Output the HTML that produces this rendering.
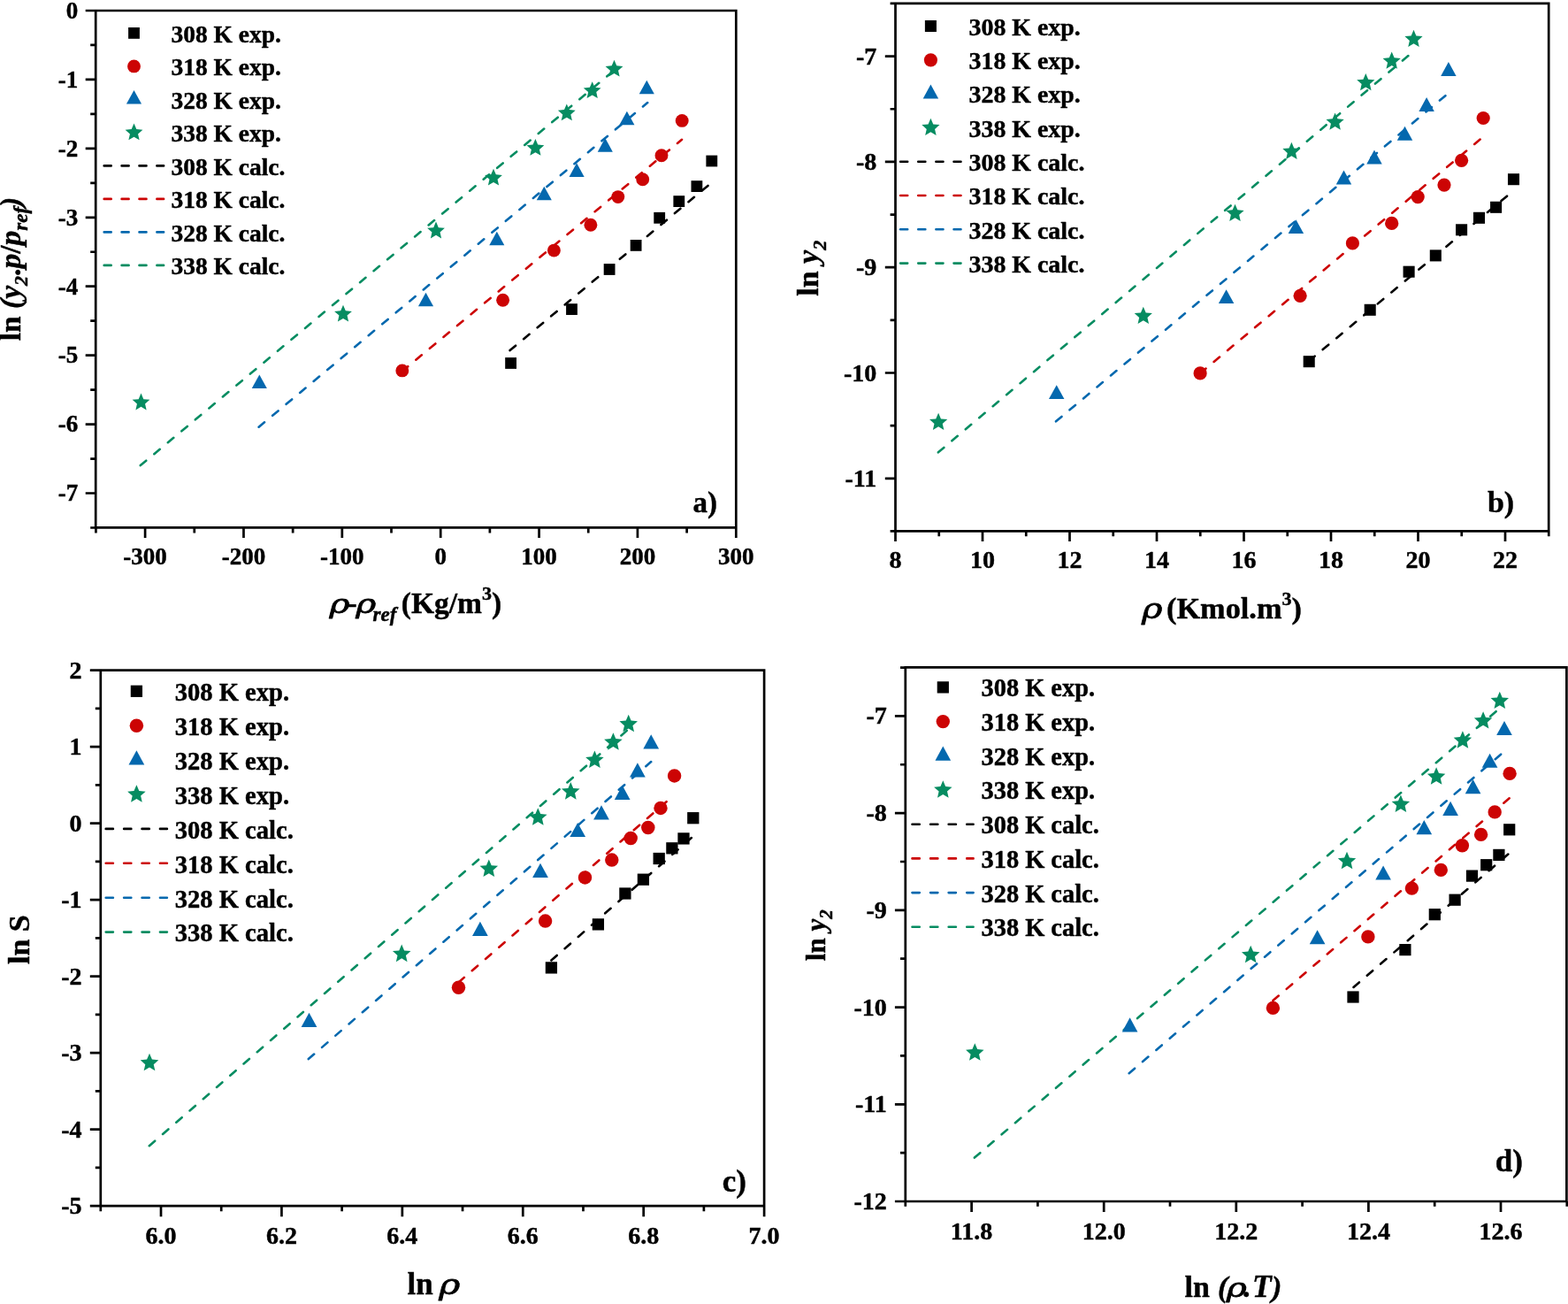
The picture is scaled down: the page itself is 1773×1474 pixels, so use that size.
<!DOCTYPE html>
<html><head><meta charset="utf-8"><title>Solubility correlation plots</title>
<style>
html,body{margin:0;padding:0;background:#fff;}
svg{display:block;}
text{font-family:"Liberation Serif",serif;font-weight:bold;fill:#000;stroke:#000;stroke-width:0.45px;stroke-linejoin:round;}
.rho{font-family:"DejaVu Serif","Liberation Serif",serif;font-style:italic;font-weight:normal;stroke:#000;stroke-width:0.8px;}
</style></head><body>
<svg width="1773" height="1474" viewBox="0 0 1773 1474">
<rect width="1773" height="1474" fill="#fff"/>
<g id="panel-a">
<path d="M108.2 12H832.3V596.4H108.2ZM108.2 12H96.7M108.2 89.93H96.7M108.2 167.86H96.7M108.2 245.79H96.7M108.2 323.72H96.7M108.2 401.65H96.7M108.2 479.58H96.7M108.2 557.51H96.7M108.2 50.97H102.2M108.2 128.9H102.2M108.2 206.83H102.2M108.2 284.75H102.2M108.2 362.69H102.2M108.2 440.62H102.2M108.2 518.55H102.2M108.2 596.48H102.2M164.1 596.4V607.9M275.47 596.4V607.9M386.83 596.4V607.9M498.2 596.4V607.9M609.57 596.4V607.9M720.93 596.4V607.9M832.3 596.4V607.9M108.42 596.4V602.4M219.78 596.4V602.4M331.15 596.4V602.4M442.52 596.4V602.4M553.88 596.4V602.4M665.25 596.4V602.4M776.62 596.4V602.4" fill="none" stroke="#000" stroke-width="2.7" stroke-linecap="butt" stroke-linejoin="miter"/>
<text x="88.3" y="20.8" font-size="27" text-anchor="end">0</text>
<text x="88.3" y="98.73" font-size="27" text-anchor="end">-1</text>
<text x="88.3" y="176.66" font-size="27" text-anchor="end">-2</text>
<text x="88.3" y="254.59" font-size="27" text-anchor="end">-3</text>
<text x="88.3" y="332.52" font-size="27" text-anchor="end">-4</text>
<text x="88.3" y="410.45" font-size="27" text-anchor="end">-5</text>
<text x="88.3" y="488.38" font-size="27" text-anchor="end">-6</text>
<text x="88.3" y="566.31" font-size="27" text-anchor="end">-7</text>
<text x="164.1" y="637.6" font-size="27" text-anchor="middle">-300</text>
<text x="275.47" y="637.6" font-size="27" text-anchor="middle">-200</text>
<text x="386.83" y="637.6" font-size="27" text-anchor="middle">-100</text>
<text x="498.2" y="637.6" font-size="27" text-anchor="middle">0</text>
<text x="609.57" y="637.6" font-size="27" text-anchor="middle">100</text>
<text x="720.93" y="637.6" font-size="27" text-anchor="middle">200</text>
<text x="832.3" y="637.6" font-size="27" text-anchor="middle">300</text>
<line x1="576.6" y1="396.1" x2="805.5" y2="205.7" stroke="#000000" stroke-width="2.6" stroke-dasharray="8.4 11.8" stroke-linecap="round"/>
<line x1="454.8" y1="419.6" x2="771" y2="157.8" stroke="#CC0404" stroke-width="2.6" stroke-dasharray="8.4 11.8" stroke-linecap="round"/>
<line x1="292.6" y1="482.7" x2="732.2" y2="116.1" stroke="#0468AE" stroke-width="2.6" stroke-dasharray="8.4 11.8" stroke-linecap="round"/>
<line x1="158.8" y1="526.1" x2="694.5" y2="79.5" stroke="#068C61" stroke-width="2.6" stroke-dasharray="8.4 11.8" stroke-linecap="round"/>
<rect x="798.4" y="175.6" width="12.8" height="12.8" fill="#000000"/>
<rect x="781.5" y="204.2" width="12.8" height="12.8" fill="#000000"/>
<rect x="761.4" y="221.2" width="12.8" height="12.8" fill="#000000"/>
<rect x="739.3" y="239.9" width="12.8" height="12.8" fill="#000000"/>
<rect x="712.7" y="271" width="12.8" height="12.8" fill="#000000"/>
<rect x="682.7" y="298.1" width="12.8" height="12.8" fill="#000000"/>
<rect x="640.1" y="343.2" width="12.8" height="12.8" fill="#000000"/>
<rect x="571.2" y="404.1" width="12.8" height="12.8" fill="#000000"/>
<circle cx="771.2" cy="136.4" r="7.45" fill="#CC0404"/>
<circle cx="748" cy="175.7" r="7.45" fill="#CC0404"/>
<circle cx="726.7" cy="202.7" r="7.45" fill="#CC0404"/>
<circle cx="698.8" cy="222.6" r="7.45" fill="#CC0404"/>
<circle cx="667.9" cy="254.2" r="7.45" fill="#CC0404"/>
<circle cx="626.4" cy="283.1" r="7.45" fill="#CC0404"/>
<circle cx="568.6" cy="339.2" r="7.45" fill="#CC0404"/>
<circle cx="454.8" cy="418.9" r="7.45" fill="#CC0404"/>
<polygon points="731.3,90.7 722.75,106.3 739.85,106.3" fill="#0468AE"/>
<polygon points="708.9,125.7 700.35,141.3 717.45,141.3" fill="#0468AE"/>
<polygon points="684.3,156.1 675.75,171.7 692.85,171.7" fill="#0468AE"/>
<polygon points="652.1,184.3 643.55,199.9 660.65,199.9" fill="#0468AE"/>
<polygon points="615.3,210.7 606.75,226.3 623.85,226.3" fill="#0468AE"/>
<polygon points="561.8,261.7 553.25,277.3 570.35,277.3" fill="#0468AE"/>
<polygon points="481.5,330.7 472.95,346.3 490.05,346.3" fill="#0468AE"/>
<polygon points="293.3,423.5 284.75,439.1 301.85,439.1" fill="#0468AE"/>
<polygon points="694.5,67.8 697.31,74.33 704.39,74.99 699.05,79.68 700.61,86.61 694.5,82.98 688.39,86.61 689.95,79.68 684.61,74.99 691.69,74.33" fill="#068C61"/>
<polygon points="669.7,92.2 672.51,98.73 679.59,99.39 674.25,104.08 675.81,111.01 669.7,107.38 663.59,111.01 665.15,104.08 659.81,99.39 666.89,98.73" fill="#068C61"/>
<polygon points="640.8,117.5 643.61,124.03 650.69,124.69 645.35,129.38 646.91,136.31 640.8,132.68 634.69,136.31 636.25,129.38 630.91,124.69 637.99,124.03" fill="#068C61"/>
<polygon points="605.4,157 608.21,163.53 615.29,164.19 609.95,168.88 611.51,175.81 605.4,172.18 599.29,175.81 600.85,168.88 595.51,164.19 602.59,163.53" fill="#068C61"/>
<polygon points="558,190.8 560.81,197.33 567.89,197.99 562.55,202.68 564.11,209.61 558,205.98 551.89,209.61 553.45,202.68 548.11,197.99 555.19,197.33" fill="#068C61"/>
<polygon points="493,250.6 495.81,257.13 502.89,257.79 497.55,262.48 499.11,269.41 493,265.78 486.89,269.41 488.45,262.48 483.11,257.79 490.19,257.13" fill="#068C61"/>
<polygon points="388,344.7 390.81,351.23 397.89,351.89 392.55,356.58 394.11,363.51 388,359.88 381.89,363.51 383.45,356.58 378.11,351.89 385.19,351.23" fill="#068C61"/>
<polygon points="159.5,444.6 162.31,451.13 169.39,451.79 164.05,456.48 165.61,463.41 159.5,459.78 153.39,463.41 154.95,456.48 149.61,451.79 156.69,451.13" fill="#068C61"/>
<rect x="145.1" y="31" width="12.8" height="12.8" fill="#000000"/>
<circle cx="151.5" cy="74.9" r="7.45" fill="#CC0404"/>
<polygon points="151.5,102 142.95,117.6 160.05,117.6" fill="#0468AE"/>
<polygon points="151.5,139.5 154.31,146.03 161.39,146.69 156.05,151.38 157.61,158.31 151.5,154.68 145.39,158.31 146.95,151.38 141.61,146.69 148.69,146.03" fill="#068C61"/>
<line x1="117.7" y1="187.4" x2="185.1" y2="187.4" stroke="#000000" stroke-width="2.6" stroke-dasharray="8 11.9" stroke-linecap="round"/>
<line x1="117.7" y1="224.9" x2="185.1" y2="224.9" stroke="#CC0404" stroke-width="2.6" stroke-dasharray="8 11.9" stroke-linecap="round"/>
<line x1="117.7" y1="262.4" x2="185.1" y2="262.4" stroke="#0468AE" stroke-width="2.6" stroke-dasharray="8 11.9" stroke-linecap="round"/>
<line x1="117.7" y1="299.9" x2="185.1" y2="299.9" stroke="#068C61" stroke-width="2.6" stroke-dasharray="8 11.9" stroke-linecap="round"/>
<text x="193.6" y="47.9" font-size="27.45">308 K exp.</text>
<text x="193.6" y="85.4" font-size="27.45">318 K exp.</text>
<text x="193.6" y="122.9" font-size="27.45">328 K exp.</text>
<text x="193.6" y="160.4" font-size="27.45">338 K exp.</text>
<text x="193.6" y="197.9" font-size="27.45">308 K calc.</text>
<text x="193.6" y="235.4" font-size="27.45">318 K calc.</text>
<text x="193.6" y="272.9" font-size="27.45">328 K calc.</text>
<text x="193.6" y="310.4" font-size="27.45">338 K calc.</text>
<text x="783.6" y="578.9" font-size="33">a)</text>
<text class="rho" transform="translate(372.6,692.8)  scale(1.28,1)" font-size="30.5">ρ</text><text class="rho" transform="translate(402.2,692.8)  scale(1.28,1)" font-size="30.5">ρ</text>
<text y="692.8" font-size="33.5"><tspan x="392.5">-</tspan><tspan x="421.6" y="701.7" font-style="italic" font-size="23">ref</tspan><tspan x="453.8" y="692.8">(Kg/m</tspan><tspan font-size="22" dy="-14.5">3</tspan><tspan dy="14.5">)</tspan></text>
<text transform="translate(23.4,385.3) rotate(-90)" font-size="33.5">ln <tspan font-style="italic">(y</tspan><tspan font-style="italic" font-size="22" dy="8">2</tspan><tspan dy="-8">.</tspan><tspan font-style="italic">p</tspan>/<tspan font-style="italic">p</tspan><tspan font-style="italic" font-size="23" dy="8">ref</tspan><tspan font-style="italic" dy="-8">)</tspan></text>
</g>
<g id="panel-b">
<path d="M1012.5 3.8H1751.2V600.4H1012.5ZM1012.5 63.6H1000.8M1012.5 182.9H1000.8M1012.5 302.2H1000.8M1012.5 421.5H1000.8M1012.5 540.8H1000.8M1012.5 3.95H1006.6M1012.5 123.25H1006.6M1012.5 242.55H1006.6M1012.5 361.85H1006.6M1012.5 481.15H1006.6M1012.5 600.45H1006.6M1012.5 600.4V612.1M1111 600.4V612.1M1209.5 600.4V612.1M1308 600.4V612.1M1406.5 600.4V612.1M1505 600.4V612.1M1603.5 600.4V612.1M1702 600.4V612.1M1061.75 600.4V606.3M1160.25 600.4V606.3M1258.75 600.4V606.3M1357.25 600.4V606.3M1455.75 600.4V606.3M1554.25 600.4V606.3M1652.75 600.4V606.3M1751.25 600.4V606.3" fill="none" stroke="#000" stroke-width="2.7" stroke-linecap="butt" stroke-linejoin="miter"/>
<text x="991.3" y="72.6" font-size="28" text-anchor="end">-7</text>
<text x="991.3" y="191.9" font-size="28" text-anchor="end">-8</text>
<text x="991.3" y="311.2" font-size="28" text-anchor="end">-9</text>
<text x="991.3" y="430.5" font-size="28" text-anchor="end">-10</text>
<text x="991.3" y="549.8" font-size="28" text-anchor="end">-11</text>
<text x="1012.5" y="642.3" font-size="28" text-anchor="middle">8</text>
<text x="1111" y="642.3" font-size="28" text-anchor="middle">10</text>
<text x="1209.5" y="642.3" font-size="28" text-anchor="middle">12</text>
<text x="1308" y="642.3" font-size="28" text-anchor="middle">14</text>
<text x="1406.5" y="642.3" font-size="28" text-anchor="middle">16</text>
<text x="1505" y="642.3" font-size="28" text-anchor="middle">18</text>
<text x="1603.5" y="642.3" font-size="28" text-anchor="middle">20</text>
<text x="1702" y="642.3" font-size="28" text-anchor="middle">22</text>
<line x1="1480.2" y1="408" x2="1712" y2="215" stroke="#000000" stroke-width="2.6" stroke-dasharray="8.4 11.8" stroke-linecap="round"/>
<line x1="1357.1" y1="421.9" x2="1677.7" y2="154.2" stroke="#CC0404" stroke-width="2.6" stroke-dasharray="8.4 11.8" stroke-linecap="round"/>
<line x1="1194" y1="476.3" x2="1638.6" y2="104.6" stroke="#0468AE" stroke-width="2.6" stroke-dasharray="8.4 11.8" stroke-linecap="round"/>
<line x1="1060.9" y1="511.3" x2="1599" y2="57.5" stroke="#068C61" stroke-width="2.6" stroke-dasharray="8.4 11.8" stroke-linecap="round"/>
<rect x="1704.97" y="196.17" width="13.06" height="13.06" fill="#000000"/>
<rect x="1685.07" y="227.77" width="13.06" height="13.06" fill="#000000"/>
<rect x="1665.97" y="239.77" width="13.06" height="13.06" fill="#000000"/>
<rect x="1646.07" y="253.27" width="13.06" height="13.06" fill="#000000"/>
<rect x="1616.77" y="282.37" width="13.06" height="13.06" fill="#000000"/>
<rect x="1586.57" y="300.67" width="13.06" height="13.06" fill="#000000"/>
<rect x="1542.67" y="343.77" width="13.06" height="13.06" fill="#000000"/>
<rect x="1473.67" y="402.17" width="13.06" height="13.06" fill="#000000"/>
<circle cx="1677.2" cy="133.5" r="7.6" fill="#CC0404"/>
<circle cx="1652.6" cy="181.3" r="7.6" fill="#CC0404"/>
<circle cx="1633" cy="209.1" r="7.6" fill="#CC0404"/>
<circle cx="1603.2" cy="222.6" r="7.6" fill="#CC0404"/>
<circle cx="1573.7" cy="252.4" r="7.6" fill="#CC0404"/>
<circle cx="1529.4" cy="274.9" r="7.6" fill="#CC0404"/>
<circle cx="1470.1" cy="334.3" r="7.6" fill="#CC0404"/>
<circle cx="1357.1" cy="421.9" r="7.6" fill="#CC0404"/>
<polygon points="1637.9,69.99 1629.18,85.9 1646.62,85.9" fill="#0468AE"/>
<polygon points="1613.1,110.09 1604.38,126 1621.82,126" fill="#0468AE"/>
<polygon points="1588.5,142.79 1579.78,158.7 1597.22,158.7" fill="#0468AE"/>
<polygon points="1554,169.49 1545.28,185.4 1562.72,185.4" fill="#0468AE"/>
<polygon points="1519.5,192.49 1510.78,208.4 1528.22,208.4" fill="#0468AE"/>
<polygon points="1465.4,248.19 1456.68,264.1 1474.12,264.1" fill="#0468AE"/>
<polygon points="1386.6,327.19 1377.88,343.1 1395.32,343.1" fill="#0468AE"/>
<polygon points="1194.7,435.19 1185.98,451.1 1203.42,451.1" fill="#0468AE"/>
<polygon points="1598.5,33.79 1601.37,40.45 1608.59,41.12 1603.14,45.91 1604.74,52.98 1598.5,49.28 1592.26,52.98 1593.86,45.91 1588.41,41.12 1595.63,40.45" fill="#068C61"/>
<polygon points="1573.7,58.59 1576.57,65.25 1583.79,65.92 1578.34,70.71 1579.94,77.78 1573.7,74.08 1567.46,77.78 1569.06,70.71 1563.61,65.92 1570.83,65.25" fill="#068C61"/>
<polygon points="1544.3,82.99 1547.17,89.65 1554.39,90.32 1548.94,95.11 1550.54,102.18 1544.3,98.48 1538.06,102.18 1539.66,95.11 1534.21,90.32 1541.43,89.65" fill="#068C61"/>
<polygon points="1509.6,127.59 1512.47,134.25 1519.69,134.92 1514.24,139.71 1515.84,146.78 1509.6,143.08 1503.36,146.78 1504.96,139.71 1499.51,134.92 1506.73,134.25" fill="#068C61"/>
<polygon points="1460.4,160.79 1463.27,167.45 1470.49,168.12 1465.04,172.91 1466.64,179.98 1460.4,176.28 1454.16,179.98 1455.76,172.91 1450.31,168.12 1457.53,167.45" fill="#068C61"/>
<polygon points="1396.5,230.69 1399.37,237.35 1406.59,238.02 1401.14,242.81 1402.74,249.88 1396.5,246.18 1390.26,249.88 1391.86,242.81 1386.41,238.02 1393.63,237.35" fill="#068C61"/>
<polygon points="1292.8,346.79 1295.67,353.45 1302.89,354.12 1297.44,358.91 1299.04,365.98 1292.8,362.28 1286.56,365.98 1288.16,358.91 1282.71,354.12 1289.93,353.45" fill="#068C61"/>
<polygon points="1061.1,466.79 1063.97,473.45 1071.19,474.12 1065.74,478.91 1067.34,485.98 1061.1,482.28 1054.86,485.98 1056.46,478.91 1051.01,474.12 1058.23,473.45" fill="#068C61"/>
<rect x="1045.87" y="22.97" width="13.06" height="13.06" fill="#000000"/>
<circle cx="1052.4" cy="67.8" r="7.6" fill="#CC0404"/>
<polygon points="1052.4,95.49 1043.68,111.4 1061.12,111.4" fill="#0468AE"/>
<polygon points="1052.4,133.79 1055.27,140.45 1062.49,141.12 1057.04,145.91 1058.64,152.98 1052.4,149.28 1046.16,152.98 1047.76,145.91 1042.31,141.12 1049.53,140.45" fill="#068C61"/>
<line x1="1018.1" y1="182.7" x2="1086.5" y2="182.7" stroke="#000000" stroke-width="2.6" stroke-dasharray="8.1 12.04" stroke-linecap="round"/>
<line x1="1018.1" y1="221" x2="1086.5" y2="221" stroke="#CC0404" stroke-width="2.6" stroke-dasharray="8.1 12.04" stroke-linecap="round"/>
<line x1="1018.1" y1="259.3" x2="1086.5" y2="259.3" stroke="#0468AE" stroke-width="2.6" stroke-dasharray="8.1 12.04" stroke-linecap="round"/>
<line x1="1018.1" y1="297.6" x2="1086.5" y2="297.6" stroke="#068C61" stroke-width="2.6" stroke-dasharray="8.1 12.04" stroke-linecap="round"/>
<text x="1095.5" y="39.8" font-size="27.9">308 K exp.</text>
<text x="1095.5" y="78.1" font-size="27.9">318 K exp.</text>
<text x="1095.5" y="116.4" font-size="27.9">328 K exp.</text>
<text x="1095.5" y="154.7" font-size="27.9">338 K exp.</text>
<text x="1095.5" y="193" font-size="27.9">308 K calc.</text>
<text x="1095.5" y="231.3" font-size="27.9">318 K calc.</text>
<text x="1095.5" y="269.6" font-size="27.9">328 K calc.</text>
<text x="1095.5" y="307.9" font-size="27.9">338 K calc.</text>
<text x="1681.9" y="579.2" font-size="34">b)</text>
<text class="rho" transform="translate(1290.9,699.1)  scale(1.28,1)" font-size="31.11">ρ</text>
<text x="1319" y="698.9" font-size="34.3">(Kmol.m<tspan font-size="22" dy="-14.8">3</tspan><tspan dy="14.8">)</tspan></text>
<text transform="translate(925.4,334.8) rotate(-90)" font-size="34">ln <tspan font-style="italic">y</tspan><tspan font-style="italic" font-size="22" dy="9">2</tspan></text>
</g>
<g id="panel-c">
<path d="M113.8 757.6H864.1V1363.2H113.8ZM113.8 757.6H101.8M113.8 844.1H101.8M113.8 930.6H101.8M113.8 1017.1H101.8M113.8 1103.6H101.8M113.8 1190.1H101.8M113.8 1276.6H101.8M113.8 1363.1H101.8M113.8 800.85H107.8M113.8 887.35H107.8M113.8 973.85H107.8M113.8 1060.35H107.8M113.8 1146.85H107.8M113.8 1233.35H107.8M113.8 1319.85H107.8M182.01 1363.2V1375.2M318.43 1363.2V1375.2M454.85 1363.2V1375.2M591.27 1363.2V1375.2M727.69 1363.2V1375.2M864.11 1363.2V1375.2M113.8 1363.2V1369.2M250.22 1363.2V1369.2M386.64 1363.2V1369.2M523.06 1363.2V1369.2M659.48 1363.2V1369.2M795.9 1363.2V1369.2" fill="none" stroke="#000" stroke-width="2.7" stroke-linecap="butt" stroke-linejoin="miter"/>
<text x="92.5" y="766.6" font-size="28" text-anchor="end">2</text>
<text x="92.5" y="853.1" font-size="28" text-anchor="end">1</text>
<text x="92.5" y="939.6" font-size="28" text-anchor="end">0</text>
<text x="92.5" y="1026.1" font-size="28" text-anchor="end">-1</text>
<text x="92.5" y="1112.6" font-size="28" text-anchor="end">-2</text>
<text x="92.5" y="1199.1" font-size="28" text-anchor="end">-3</text>
<text x="92.5" y="1285.6" font-size="28" text-anchor="end">-4</text>
<text x="92.5" y="1372.1" font-size="28" text-anchor="end">-5</text>
<text x="182.01" y="1406" font-size="28" text-anchor="middle">6.0</text>
<text x="318.43" y="1406" font-size="28" text-anchor="middle">6.2</text>
<text x="454.85" y="1406" font-size="28" text-anchor="middle">6.4</text>
<text x="591.27" y="1406" font-size="28" text-anchor="middle">6.6</text>
<text x="727.69" y="1406" font-size="28" text-anchor="middle">6.8</text>
<text x="864.11" y="1406" font-size="28" text-anchor="middle">7.0</text>
<line x1="623.4" y1="1085.5" x2="784" y2="945.2" stroke="#000000" stroke-width="2.6" stroke-dasharray="8.4 11.8" stroke-linecap="round"/>
<line x1="518.5" y1="1110.4" x2="762.2" y2="898.7" stroke="#CC0404" stroke-width="2.6" stroke-dasharray="8.4 11.8" stroke-linecap="round"/>
<line x1="348.8" y1="1197.1" x2="736.2" y2="861.1" stroke="#0468AE" stroke-width="2.6" stroke-dasharray="8.4 11.8" stroke-linecap="round"/>
<line x1="168.8" y1="1295.2" x2="710.7" y2="824.2" stroke="#068C61" stroke-width="2.6" stroke-dasharray="8.4 11.8" stroke-linecap="round"/>
<rect x="777.16" y="918.06" width="13.27" height="13.27" fill="#000000"/>
<rect x="766.36" y="941.26" width="13.27" height="13.27" fill="#000000"/>
<rect x="753.26" y="952.16" width="13.27" height="13.27" fill="#000000"/>
<rect x="738.56" y="963.86" width="13.27" height="13.27" fill="#000000"/>
<rect x="720.76" y="987.56" width="13.27" height="13.27" fill="#000000"/>
<rect x="700.26" y="1003.36" width="13.27" height="13.27" fill="#000000"/>
<rect x="669.76" y="1038.26" width="13.27" height="13.27" fill="#000000"/>
<rect x="616.76" y="1087.26" width="13.27" height="13.27" fill="#000000"/>
<circle cx="762.6" cy="876.9" r="7.73" fill="#CC0404"/>
<circle cx="747" cy="913.4" r="7.73" fill="#CC0404"/>
<circle cx="732.8" cy="935.5" r="7.73" fill="#CC0404"/>
<circle cx="713.2" cy="947.5" r="7.73" fill="#CC0404"/>
<circle cx="691.8" cy="972.1" r="7.73" fill="#CC0404"/>
<circle cx="661.5" cy="991.9" r="7.73" fill="#CC0404"/>
<circle cx="616.6" cy="1041.1" r="7.73" fill="#CC0404"/>
<circle cx="518.5" cy="1116.3" r="7.73" fill="#CC0404"/>
<polygon points="736.2,830.22 727.33,846.39 745.07,846.39" fill="#0468AE"/>
<polygon points="720.9,862.22 712.03,878.39 729.77,878.39" fill="#0468AE"/>
<polygon points="703.7,887.72 694.83,903.89 712.57,903.89" fill="#0468AE"/>
<polygon points="680,910.32 671.13,926.49 688.87,926.49" fill="#0468AE"/>
<polygon points="653.2,929.92 644.33,946.09 662.07,946.09" fill="#0468AE"/>
<polygon points="611,975.72 602.13,991.89 619.87,991.89" fill="#0468AE"/>
<polygon points="542.9,1041.82 534.03,1057.99 551.77,1057.99" fill="#0468AE"/>
<polygon points="349.5,1144.82 340.63,1160.99 358.37,1160.99" fill="#0468AE"/>
<polygon points="710.7,807.82 713.62,814.59 720.96,815.27 715.42,820.13 717.04,827.33 710.7,823.56 704.36,827.33 705.98,820.13 700.44,815.27 707.78,814.59" fill="#068C61"/>
<polygon points="693.4,828.22 696.32,834.99 703.66,835.67 698.12,840.53 699.74,847.73 693.4,843.96 687.06,847.73 688.68,840.53 683.14,835.67 690.48,834.99" fill="#068C61"/>
<polygon points="672.4,848.52 675.32,855.29 682.66,855.97 677.12,860.83 678.74,868.03 672.4,864.26 666.06,868.03 667.68,860.83 662.14,855.97 669.48,855.29" fill="#068C61"/>
<polygon points="645.3,884.12 648.22,890.89 655.56,891.57 650.02,896.43 651.64,903.63 645.3,899.86 638.96,903.63 640.58,896.43 635.04,891.57 642.38,890.89" fill="#068C61"/>
<polygon points="608.3,913.22 611.22,919.99 618.56,920.67 613.02,925.53 614.64,932.73 608.3,928.96 601.96,932.73 603.58,925.53 598.04,920.67 605.38,919.99" fill="#068C61"/>
<polygon points="552.8,971.42 555.72,978.19 563.06,978.87 557.52,983.73 559.14,990.93 552.8,987.16 546.46,990.93 548.08,983.73 542.54,978.87 549.88,978.19" fill="#068C61"/>
<polygon points="454.2,1067.62 457.12,1074.39 464.46,1075.07 458.92,1079.93 460.54,1087.13 454.2,1083.36 447.86,1087.13 449.48,1079.93 443.94,1075.07 451.28,1074.39" fill="#068C61"/>
<polygon points="169,1190.82 171.92,1197.59 179.26,1198.27 173.72,1203.13 175.34,1210.33 169,1206.56 162.66,1210.33 164.28,1203.13 158.74,1198.27 166.08,1197.59" fill="#068C61"/>
<rect x="147.76" y="774.66" width="13.27" height="13.27" fill="#000000"/>
<circle cx="154.4" cy="820.2" r="7.73" fill="#CC0404"/>
<polygon points="154.4,848.32 145.53,864.49 163.27,864.49" fill="#0468AE"/>
<polygon points="154.4,887.22 157.32,893.99 164.66,894.67 159.12,899.53 160.74,906.73 154.4,902.96 148.06,906.73 149.68,899.53 144.14,894.67 151.48,893.99" fill="#068C61"/>
<line x1="119.7" y1="936.9" x2="188.9" y2="936.9" stroke="#000000" stroke-width="2.6" stroke-dasharray="8.21 12.21" stroke-linecap="round"/>
<line x1="119.7" y1="975.8" x2="188.9" y2="975.8" stroke="#CC0404" stroke-width="2.6" stroke-dasharray="8.21 12.21" stroke-linecap="round"/>
<line x1="119.7" y1="1014.7" x2="188.9" y2="1014.7" stroke="#0468AE" stroke-width="2.6" stroke-dasharray="8.21 12.21" stroke-linecap="round"/>
<line x1="119.7" y1="1053.6" x2="188.9" y2="1053.6" stroke="#068C61" stroke-width="2.6" stroke-dasharray="8.21 12.21" stroke-linecap="round"/>
<text x="197.7" y="792.1" font-size="28.6">308 K exp.</text>
<text x="197.7" y="831" font-size="28.6">318 K exp.</text>
<text x="197.7" y="869.9" font-size="28.6">328 K exp.</text>
<text x="197.7" y="908.8" font-size="28.6">338 K exp.</text>
<text x="197.7" y="947.7" font-size="28.6">308 K calc.</text>
<text x="197.7" y="986.6" font-size="28.6">318 K calc.</text>
<text x="197.7" y="1025.5" font-size="28.6">328 K calc.</text>
<text x="197.7" y="1064.4" font-size="28.6">338 K calc.</text>
<text x="816.8" y="1347.4" font-size="35">c)</text>
<text x="460.5" y="1462.8" font-size="35">ln</text>
<text class="rho" transform="translate(496.3,1463.1)  scale(1.28,1)" font-size="32.02">ρ</text>
<text transform="translate(32.6,1090) rotate(-90)" font-size="34">ln S</text>
</g>
<g id="panel-d">
<path d="M1023.8 754.4H1771.4V1358H1023.8ZM1023.8 809.4H1011.9M1023.8 919.12H1011.9M1023.8 1028.84H1011.9M1023.8 1138.56H1011.9M1023.8 1248.28H1011.9M1023.8 1358H1011.9M1023.8 754.54H1018M1023.8 864.26H1018M1023.8 973.98H1018M1023.8 1083.7H1018M1023.8 1193.42H1018M1023.8 1303.14H1018M1098.6 1358V1369.9M1248.2 1358V1369.9M1397.8 1358V1369.9M1547.4 1358V1369.9M1697 1358V1369.9M1023.8 1358V1363.8M1173.4 1358V1363.8M1323 1358V1363.8M1472.6 1358V1363.8M1622.2 1358V1363.8M1771.8 1358V1363.8" fill="none" stroke="#000" stroke-width="2.7" stroke-linecap="butt" stroke-linejoin="miter"/>
<text x="1002.8" y="818.4" font-size="28" text-anchor="end">-7</text>
<text x="1002.8" y="928.12" font-size="28" text-anchor="end">-8</text>
<text x="1002.8" y="1037.84" font-size="28" text-anchor="end">-9</text>
<text x="1002.8" y="1147.56" font-size="28" text-anchor="end">-10</text>
<text x="1002.8" y="1257.28" font-size="28" text-anchor="end">-11</text>
<text x="1002.8" y="1367" font-size="28" text-anchor="end">-12</text>
<text x="1098.6" y="1400.7" font-size="28" text-anchor="middle">11.8</text>
<text x="1248.2" y="1400.7" font-size="28" text-anchor="middle">12.0</text>
<text x="1397.8" y="1400.7" font-size="28" text-anchor="middle">12.2</text>
<text x="1547.4" y="1400.7" font-size="28" text-anchor="middle">12.4</text>
<text x="1697" y="1400.7" font-size="28" text-anchor="middle">12.6</text>
<line x1="1530.5" y1="1115.9" x2="1706.9" y2="964.2" stroke="#000000" stroke-width="2.6" stroke-dasharray="8.4 11.8" stroke-linecap="round"/>
<line x1="1439.4" y1="1131" x2="1706.9" y2="902.1" stroke="#CC0404" stroke-width="2.6" stroke-dasharray="8.4 11.8" stroke-linecap="round"/>
<line x1="1276.7" y1="1213.2" x2="1701.3" y2="849.1" stroke="#0468AE" stroke-width="2.6" stroke-dasharray="8.4 11.8" stroke-linecap="round"/>
<line x1="1101.9" y1="1308.6" x2="1695.8" y2="800.6" stroke="#068C61" stroke-width="2.6" stroke-dasharray="8.4 11.8" stroke-linecap="round"/>
<rect x="1700.1" y="931.2" width="13.21" height="13.21" fill="#000000"/>
<rect x="1688.3" y="959.8" width="13.21" height="13.21" fill="#000000"/>
<rect x="1674.1" y="971.1" width="13.21" height="13.21" fill="#000000"/>
<rect x="1657.9" y="983.5" width="13.21" height="13.21" fill="#000000"/>
<rect x="1638.5" y="1010.6" width="13.21" height="13.21" fill="#000000"/>
<rect x="1615.7" y="1027.1" width="13.21" height="13.21" fill="#000000"/>
<rect x="1582.3" y="1067" width="13.21" height="13.21" fill="#000000"/>
<rect x="1523.4" y="1120.4" width="13.21" height="13.21" fill="#000000"/>
<circle cx="1707.1" cy="874.4" r="7.69" fill="#CC0404"/>
<circle cx="1690.2" cy="917.9" r="7.69" fill="#CC0404"/>
<circle cx="1674.6" cy="943.4" r="7.69" fill="#CC0404"/>
<circle cx="1653.4" cy="955.8" r="7.69" fill="#CC0404"/>
<circle cx="1629.3" cy="983.4" r="7.69" fill="#CC0404"/>
<circle cx="1596.4" cy="1004.1" r="7.69" fill="#CC0404"/>
<circle cx="1546.9" cy="1058.9" r="7.69" fill="#CC0404"/>
<circle cx="1439.4" cy="1139.4" r="7.69" fill="#CC0404"/>
<polygon points="1701,814.97 1692.18,831.07 1709.82,831.07" fill="#0468AE"/>
<polygon points="1684.6,851.67 1675.78,867.77 1693.42,867.77" fill="#0468AE"/>
<polygon points="1665.6,881.07 1656.78,897.17 1674.42,897.17" fill="#0468AE"/>
<polygon points="1640.1,905.87 1631.28,921.97 1648.92,921.97" fill="#0468AE"/>
<polygon points="1610.3,927.07 1601.48,943.17 1619.12,943.17" fill="#0468AE"/>
<polygon points="1564.1,978.47 1555.28,994.57 1572.92,994.57" fill="#0468AE"/>
<polygon points="1489.6,1051.17 1480.78,1067.27 1498.42,1067.27" fill="#0468AE"/>
<polygon points="1277.6,1150.37 1268.78,1166.47 1286.42,1166.47" fill="#0468AE"/>
<polygon points="1695.8,781.67 1698.7,788.41 1706.01,789.08 1700.5,793.93 1702.11,801.08 1695.8,797.34 1689.49,801.08 1691.1,793.93 1685.59,789.08 1692.9,788.41" fill="#068C61"/>
<polygon points="1677.1,804.17 1680,810.91 1687.31,811.58 1681.8,816.43 1683.41,823.58 1677.1,819.84 1670.79,823.58 1672.4,816.43 1666.89,811.58 1674.2,810.91" fill="#068C61"/>
<polygon points="1653.9,826.37 1656.8,833.11 1664.11,833.78 1658.6,838.63 1660.21,845.78 1653.9,842.04 1647.59,845.78 1649.2,838.63 1643.69,833.78 1651,833.11" fill="#068C61"/>
<polygon points="1624.1,867.37 1627,874.11 1634.31,874.78 1628.8,879.63 1630.41,886.78 1624.1,883.04 1617.79,886.78 1619.4,879.63 1613.89,874.78 1621.2,874.11" fill="#068C61"/>
<polygon points="1583.9,898.47 1586.8,905.21 1594.11,905.88 1588.6,910.73 1590.21,917.88 1583.9,914.14 1577.59,917.88 1579.2,910.73 1573.69,905.88 1581,905.21" fill="#068C61"/>
<polygon points="1523,962.77 1525.9,969.51 1533.21,970.18 1527.7,975.03 1529.31,982.18 1523,978.44 1516.69,982.18 1518.3,975.03 1512.79,970.18 1520.1,969.51" fill="#068C61"/>
<polygon points="1414.2,1068.87 1417.1,1075.61 1424.41,1076.28 1418.9,1081.13 1420.51,1088.28 1414.2,1084.54 1407.89,1088.28 1409.5,1081.13 1403.99,1076.28 1411.3,1075.61" fill="#068C61"/>
<polygon points="1102.3,1179.37 1105.2,1186.11 1112.51,1186.78 1107,1191.63 1108.61,1198.78 1102.3,1195.04 1095.99,1198.78 1097.6,1191.63 1092.09,1186.78 1099.4,1186.11" fill="#068C61"/>
<rect x="1059.7" y="770.3" width="13.21" height="13.21" fill="#000000"/>
<circle cx="1066.3" cy="815.6" r="7.69" fill="#CC0404"/>
<polygon points="1066.3,843.57 1057.48,859.67 1075.12,859.67" fill="#0468AE"/>
<polygon points="1066.3,882.27 1069.2,889.01 1076.51,889.68 1071,894.53 1072.61,901.68 1066.3,897.94 1059.99,901.68 1061.6,894.53 1056.09,889.68 1063.4,889.01" fill="#068C61"/>
<line x1="1031.5" y1="931.7" x2="1100.6" y2="931.7" stroke="#000000" stroke-width="2.6" stroke-dasharray="8.27 12.3" stroke-linecap="round"/>
<line x1="1031.5" y1="970.4" x2="1100.6" y2="970.4" stroke="#CC0404" stroke-width="2.6" stroke-dasharray="8.27 12.3" stroke-linecap="round"/>
<line x1="1031.5" y1="1009.1" x2="1100.6" y2="1009.1" stroke="#0468AE" stroke-width="2.6" stroke-dasharray="8.27 12.3" stroke-linecap="round"/>
<line x1="1031.5" y1="1047.8" x2="1100.6" y2="1047.8" stroke="#068C61" stroke-width="2.6" stroke-dasharray="8.27 12.3" stroke-linecap="round"/>
<text x="1109.5" y="787.3" font-size="28.4">308 K exp.</text>
<text x="1109.5" y="826" font-size="28.4">318 K exp.</text>
<text x="1109.5" y="864.7" font-size="28.4">328 K exp.</text>
<text x="1109.5" y="903.4" font-size="28.4">338 K exp.</text>
<text x="1109.5" y="942.1" font-size="28.4">308 K calc.</text>
<text x="1109.5" y="980.8" font-size="28.4">318 K calc.</text>
<text x="1109.5" y="1019.5" font-size="28.4">328 K calc.</text>
<text x="1109.5" y="1058.2" font-size="28.4">338 K calc.</text>
<text x="1690.8" y="1324.3" font-size="35">d)</text>
<text y="1466.2" font-size="34"><tspan x="1339.5">ln</tspan><tspan x="1377" font-style="italic">(</tspan><tspan x="1405.1">.</tspan><tspan x="1416" font-style="italic" font-size="35.5">T</tspan><tspan x="1438" font-style="italic">)</tspan></text>
<text class="rho" transform="translate(1386.8,1466.4)  scale(1.28,1)" font-size="30.5">ρ</text>
<text transform="translate(932.7,1086.2) rotate(-90)" font-size="31">ln <tspan font-style="italic">y</tspan><tspan font-style="italic" font-size="21" dy="8.5">2</tspan></text>
</g>
</svg>
</body></html>
